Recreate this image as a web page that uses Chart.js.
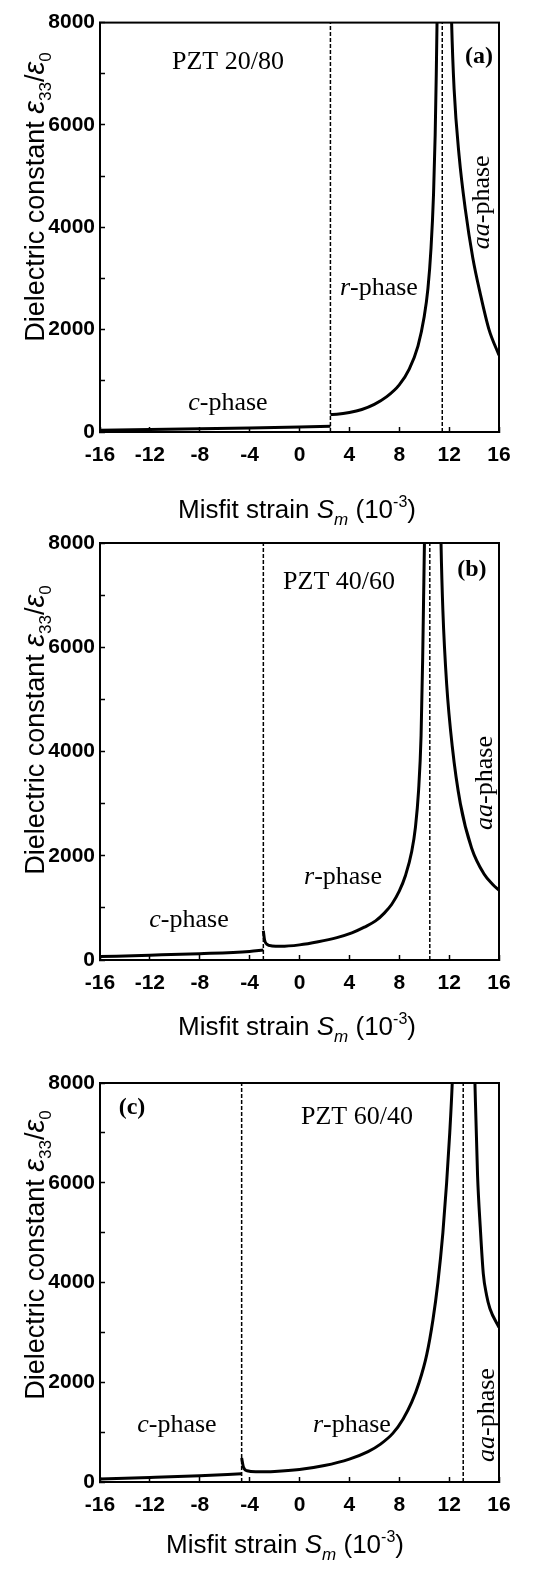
<!DOCTYPE html>
<html>
<head>
<meta charset="utf-8">
<script src="https://cdn.jsdelivr.net/npm/chart.js@4.4.0/dist/chart.umd.min.js"></script>
<style>
  body { margin: 0; background: #fff; }
  .wrap { position: relative; width: 544px; height: 1583px; }
  canvas { position: absolute; left: 0; display: block; }
</style>
</head>
<body>
<div class="wrap">
  <canvas id="panelA" width="544" height="540" style="top:0px"></canvas>
  <canvas id="panelB" width="544" height="540" style="top:520px"></canvas>
  <canvas id="panelC" width="544" height="543" style="top:1040px"></canvas>
</div>
<script>
// misfit strain S_m (1e-3) vs dielectric constant eps33/eps0

// (a) PZT 20/80
const cPhaseA_x = [-16, -12, -8, -4, 0, 2.48];
const cPhaseA_y = [35, 48, 62, 78, 98, 112];
const rPhaseA_x = [2.48, 3, 4, 5, 6, 7, 8, 8.8, 9.5, 10, 10.3, 10.55, 10.75, 10.88, 10.97, 11.03, 11.12];
const rPhaseA_y = [340, 345, 380, 440, 540, 690, 920, 1230, 1680, 2250, 2800, 3600, 4650, 5800, 7000, 8000, 9800];
const aaPhaseA_x = [12.1, 12.2, 12.4, 12.8, 13.3, 13.9, 14.5, 15.2, 16];
const aaPhaseA_y = [9200, 8000, 6700, 5400, 4350, 3400, 2700, 2000, 1500];
const boundsA = [2.48, 11.45];

// (b) PZT 40/60
const cPhaseB_x = [-16, -12, -8, -4, -2.9];
const cPhaseB_y = [65, 92, 122, 165, 190];
const rPhaseB_x = [-2.9, -2.8, -2.6, -2.2, -1.5, 0, 1.5, 3, 4.2, 5.2, 6.1, 6.8, 7.4, 8, 8.5, 9, 9.3, 9.55, 9.75, 9.88, 9.95, 10.02, 10.1];
const rPhaseB_y = [560, 380, 300, 270, 262, 290, 350, 430, 520, 630, 750, 900, 1070, 1320, 1620, 2080, 2550, 3250, 4300, 5800, 6900, 8000, 9800];
const aaPhaseB_x = [11.25, 11.35, 11.5, 11.8, 12.25, 12.9, 13.8, 14.8, 15.5, 16];
const aaPhaseB_y = [9500, 8000, 6700, 5300, 4100, 3000, 2150, 1650, 1450, 1340];
const boundsB = [-2.9, 10.45];

// (c) PZT 60/40
const cPhaseC_x = [-16, -12, -8, -4.64];
const cPhaseC_y = [60, 90, 125, 165];
const rPhaseC_x = [-4.64, -4.5, -4.2, -3.5, -2, 0, 2, 4, 5.5, 6.5, 7.5, 8.3, 9, 9.6, 10.2, 10.7, 11.1, 11.5, 11.8, 12.05, 12.25, 12.45];
const rPhaseC_y = [480, 300, 225, 205, 212, 250, 330, 460, 610, 760, 980, 1260, 1600, 2000, 2550, 3250, 4000, 5000, 6000, 7000, 8000, 9500];
const aaPhaseC_x = [13.95, 14.07, 14.28, 14.5, 14.74, 15, 15.27, 16];
const aaPhaseC_y = [9200, 8000, 6150, 5100, 4180, 3750, 3480, 3100];
const boundsC = [-4.64, 13.13];

const xRange = [-16, 16];
const yRange = [0, 8000];

const SANS = '"Liberation Sans", Arial, sans-serif';
const SERIF = '"Liberation Serif", "Times New Roman", serif';

function pts(xs, ys) {
  return xs.map((x, i) => ({ x: x, y: ys[i] }));
}

function curve(data) {
  return {
    data: data,
    borderColor: '#000',
    borderWidth: 3,
    pointRadius: 0,
    cubicInterpolationMode: 'monotone',
    clip: 0
  };
}

function boundary(x) {
  return {
    data: [{ x: x, y: yRange[0] }, { x: x, y: yRange[1] }],
    borderColor: '#000',
    borderWidth: 1.5,
    borderDash: [4, 2],
    pointRadius: 0,
    clip: 0
  };
}

// draw text made of pieces: [text, font, baseline shift]
function drawRich(ctx, parts, cx, cy) {
  let w = 0;
  parts.forEach(p => { ctx.font = p[1]; w += ctx.measureText(p[0]).width; });
  let x = cx - w / 2;
  ctx.textAlign = 'left';
  parts.forEach(p => {
    ctx.font = p[1];
    ctx.fillText(p[0], x, cy + (p[2] || 0));
    x += ctx.measureText(p[0]).width;
  });
}

const yTitle = [
  ['Dielectric constant ', '27px ' + SANS],
  ['\u03b5', 'italic 29px ' + SANS],
  ['33', '17px ' + SANS, 7],
  ['/', '27px ' + SANS],
  ['\u03b5', 'italic 29px ' + SANS],
  ['0', '17px ' + SANS, 7]
];
const xTitle = [
  ['Misfit strain ', '26px ' + SANS],
  ['S', 'italic 26px ' + SANS],
  ['m', 'italic 17px ' + SANS, 7],
  [' (10', '26px ' + SANS],
  ['-3', '16px ' + SANS, -11],
  [')', '26px ' + SANS]
];

function phase(prefix, x, y, rot) {
  return { parts: [[prefix, 'italic 26px ' + SERIF], ['-phase', '26px ' + SERIF]], x: x, y: y, rot: rot };
}
function plain(text, font, x, y) {
  return { parts: [[text, font]], x: x, y: y };
}

const decor = {
  id: 'decor',
  afterDraw(chart, args, opts) {
    const ctx = chart.ctx;
    const a = chart.chartArea;
    const xs = chart.scales.x, ys = chart.scales.y;
    ctx.save();
    ctx.strokeStyle = '#000';
    ctx.lineWidth = 2;
    ctx.strokeRect(a.left, a.top, a.right - a.left, a.bottom - a.top);
    ctx.fillStyle = '#000';
    ctx.textBaseline = 'alphabetic';
    drawRich(ctx, xTitle, opts.xTitle[0], opts.xTitle[1]);
    ctx.save();
    ctx.translate(opts.yTitle[0], opts.yTitle[1]);
    ctx.rotate(-Math.PI / 2);
    drawRich(ctx, yTitle, 0, 0);
    ctx.restore();
    ctx.textBaseline = 'middle';
    opts.labels.forEach(l => {
      const px = xs.getPixelForValue(l.x), py = ys.getPixelForValue(l.y);
      ctx.save();
      ctx.translate(px, py);
      if (l.rot) ctx.rotate(-Math.PI / 2);
      drawRich(ctx, l.parts, 0, 0);
      ctx.restore();
    });
    ctx.restore();
  }
};

function makeChart(id, datasets, top, bottomH, decorOpts) {
  const tickFont = { family: SANS, size: 21, weight: 'bold' };
  return new Chart(document.getElementById(id), {
    type: 'line',
    data: { datasets: datasets },
    options: {
      responsive: false,
      animation: false,
      layout: { padding: { left: 0, right: 45, top: top, bottom: 0 } },
      plugins: { legend: { display: false }, tooltip: { enabled: false }, decor: decorOpts },
      scales: {
        x: {
          type: 'linear', min: xRange[0], max: xRange[1],
          border: { display: true, color: '#000', width: 2 },
          grid: { drawOnChartArea: false, tickLength: -5, tickColor: '#000', tickWidth: 1.5 },
          ticks: {
            stepSize: 2, color: '#000', font: tickFont, padding: 16, maxRotation: 0,
            callback: v => (v % 4 === 0 ? String(v) : '')
          },
          afterFit: s => { s.height = bottomH; }
        },
        y: {
          type: 'linear', min: yRange[0], max: yRange[1],
          border: { display: true, color: '#000', width: 2 },
          grid: { drawOnChartArea: false, tickLength: -5, tickColor: '#000', tickWidth: 1.5 },
          ticks: {
            stepSize: 1000, color: '#000', font: tickFont, padding: 10,
            callback: v => (v % 2000 === 0 ? String(v) : '')
          },
          afterFit: s => { s.width = 100; }
        }
      }
    },
    plugins: [decor]
  });
}

makeChart('panelA', [
  curve(pts(cPhaseA_x, cPhaseA_y)),
  curve(pts(rPhaseA_x, rPhaseA_y)),
  curve(pts(aaPhaseA_x, aaPhaseA_y)),
  boundary(boundsA[0]), boundary(boundsA[1])
], 15, 540 - 432, {
  xTitle: [297, 518], yTitle: [44, 197],
  labels: [
    plain('PZT 20/80', '26px ' + SERIF, -5.74, 7233),
    plain('(a)', 'bold 24px ' + SERIF, 14.4, 7330),
    phase('c', -5.74, 556),
    phase('r', 6.37, 2820),
    phase('aa', 14.63, 4489, true)
  ]
});

makeChart('panelB', [
  curve(pts(cPhaseB_x, cPhaseB_y)),
  curve(pts(rPhaseB_x, rPhaseB_y)),
  curve(pts(aaPhaseB_x, aaPhaseB_y)),
  boundary(boundsB[0]), boundary(boundsB[1])
], 23, 540 - 440, {
  xTitle: [297, 515], yTitle: [44, 210],
  labels: [
    plain('PZT 40/60', '26px ' + SERIF, 3.17, 7252),
    plain('(b)', 'bold 24px ' + SERIF, 13.83, 7480),
    phase('c', -8.86, 767),
    phase('r', 3.49, 1592),
    phase('aa', 14.87, 3396, true)
  ]
});

makeChart('panelC', [
  curve(pts(cPhaseC_x, cPhaseC_y)),
  curve(pts(rPhaseC_x, rPhaseC_y)),
  curve(pts(aaPhaseC_x, aaPhaseC_y)),
  boundary(boundsC[0]), boundary(boundsC[1])
], 43, 543 - 442, {
  xTitle: [285, 513], yTitle: [44, 215],
  labels: [
    plain('(c)', 'bold 24px ' + SERIF, -13.43, 7500),
    plain('PZT 60/40', '26px ' + SERIF, 4.61, 7318),
    phase('c', -9.83, 1143),
    phase('r', 4.2, 1143),
    phase('aa', 15.03, 1343, true)
  ]
});
</script>
</body>
</html>
